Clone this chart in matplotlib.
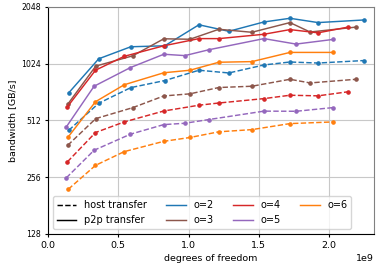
import matplotlib
matplotlib.use("Agg")
import matplotlib.pyplot as plt
from matplotlib.lines import Line2D

# degrees of freedom (x) and bandwidth in GB/s for each polynomial order
dofs_o2 = [0.147e9, 0.361e9, 0.589e9, 0.831e9, 1.074e9, 1.287e9, 1.537e9, 1.722e9, 1.922e9, 2.249e9]
host_o2 = [454, 632, 765, 834, 946, 915, 1009, 1046, 1033, 1065]
p2p_o2 = [717, 1088, 1260, 1275, 1648, 1522, 1706, 1784, 1693, 1748]

dofs_o3 = [0.140e9, 0.340e9, 0.603e9, 0.824e9, 1.010e9, 1.216e9, 1.451e9, 1.722e9, 1.865e9, 2.192e9]
host_o3 = [378, 524, 599, 691, 709, 766, 778, 847, 810, 847]
p2p_o3 = [624, 995, 1128, 1389, 1381, 1560, 1504, 1693, 1509, 1602]

dofs_o4 = [0.138e9, 0.338e9, 0.542e9, 0.824e9, 1.074e9, 1.216e9, 1.537e9, 1.722e9, 1.922e9, 2.135e9]
host_o4 = [309, 442, 503, 575, 617, 634, 669, 697, 692, 727]
p2p_o4 = [605, 946, 1121, 1275, 1392, 1392, 1468, 1554, 1494, 1602]

dofs_o5 = [0.130e9, 0.328e9, 0.586e9, 0.824e9, 0.974e9, 1.145e9, 1.537e9, 1.765e9, 2.025e9]
host_o5 = [254, 356, 433, 487, 495, 518, 574, 573, 599]
p2p_o5 = [473, 778, 977, 1150, 1131, 1215, 1392, 1302, 1377]

dofs_o6 = [0.144e9, 0.338e9, 0.542e9, 0.824e9, 1.010e9, 1.216e9, 1.451e9, 1.722e9, 2.025e9]
host_o6 = [221, 296, 350, 397, 416, 446, 458, 493, 503]
p2p_o6 = [419, 644, 792, 917, 946, 1043, 1051, 1176, 1176]

orders = ["o=2", "o=3", "o=4", "o=5", "o=6"]
colors = ["tab:blue", "tab:brown", "tab:red", "tab:purple", "tab:orange"]
dofs = [dofs_o2, dofs_o3, dofs_o4, dofs_o5, dofs_o6]
host = [host_o2, host_o3, host_o4, host_o5, host_o6]
p2p = [p2p_o2, p2p_o3, p2p_o4, p2p_o5, p2p_o6]

plt.rcParams["font.size"] = 6.8
plt.rcParams["xtick.major.size"] = 2.5
plt.rcParams["ytick.major.size"] = 2.5
plt.rcParams["xtick.major.pad"] = 2.5
plt.rcParams["ytick.major.pad"] = 2.5
plt.rcParams["axes.labelpad"] = 2.8

fig = plt.figure(figsize=(3.81, 2.67), dpi=100)
ax = fig.add_axes([0.126, 0.1236, 0.8556, 0.8502])

for x, h, p, c in zip(dofs, host, p2p, colors):
    ax.plot(x, h, "--", color=c, marker="o", ms=2.3, lw=1.05)
    ax.plot(x, p, "-", color=c, marker="o", ms=2.3, lw=1.05)

ax.set_yscale("log", base=2)
ax.set_ylim(128, 2048)
ax.set_xlim(0, 2.32e9)
yt = [128, 256, 512, 1024, 2048]
ax.set_yticks(yt)
ax.set_yticklabels([str(v) for v in yt], fontsize=5.6)
ax.yaxis.set_minor_locator(matplotlib.ticker.NullLocator())
ax.grid(True, color="#c8c8c8", lw=0.8)

for s in ["top", "right"]:
    ax.spines[s].set_color("#808080")

ax.set_xlabel("degrees of freedom")
ax.set_ylabel("bandwidth [GB/s]")

handles = [Line2D([], [], color="black", ls="--", lw=1.05),
           Line2D([], [], color="black", ls="-", lw=1.05)]
labels = ["host transfer", "p2p transfer"]
for o, c in zip(orders, colors):
    handles.append(Line2D([], [], color=c, lw=1.05))
    labels.append(o)
ax.legend(handles, labels, loc="lower left", ncol=4, fontsize=7)

fig.savefig("out.png", dpi=100)
